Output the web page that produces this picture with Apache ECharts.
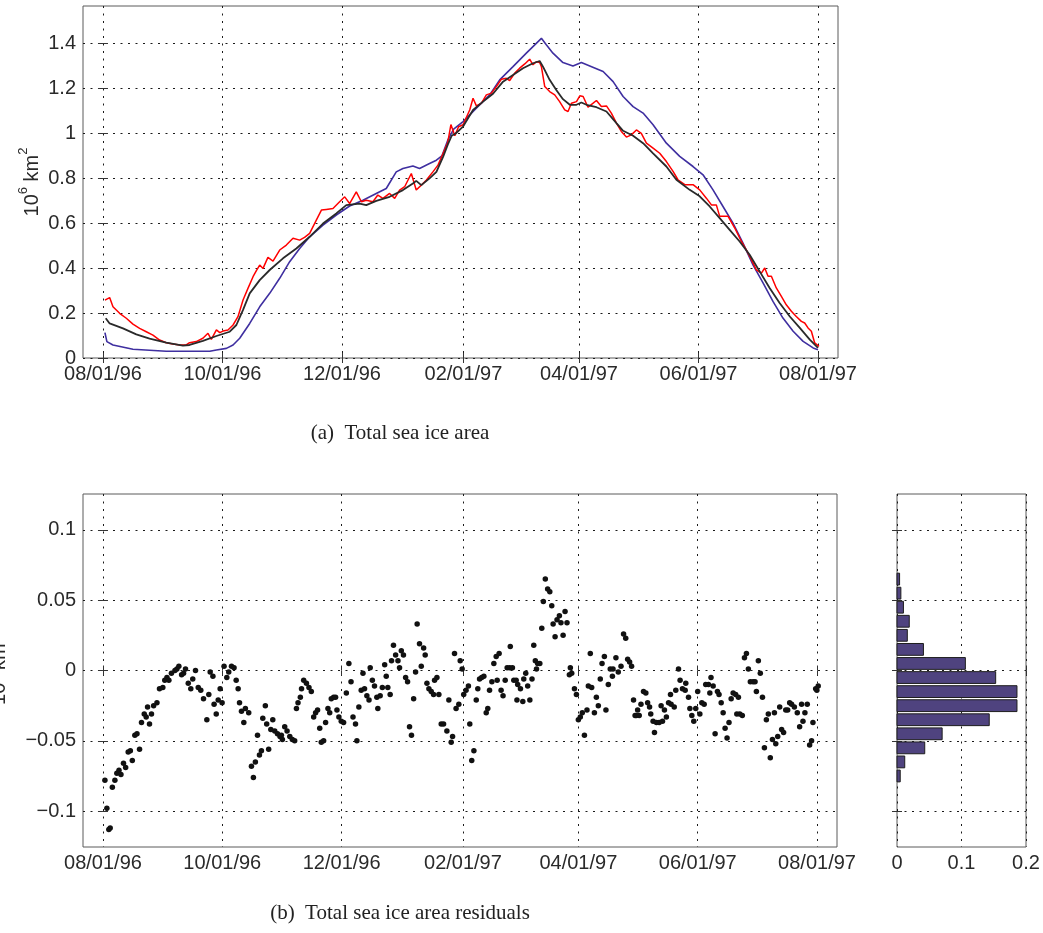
<!DOCTYPE html>
<html>
<head>
<meta charset="utf-8">
<title>Total sea ice area</title>
<script src="https://cdn.jsdelivr.net/npm/echarts@6/dist/echarts.min.js"></script>
<style>
  html, body { margin: 0; padding: 0; background: #fff; }
  #chart { width: 1043px; height: 933px; }
</style>
</head>
<body>
<div id="chart"></div>
<script>
// Days are counted from 08/01/96.
const tickDays = [0, 61, 122, 184, 243, 304, 365];
const tickLabels = ['08/01/96', '10/01/96', '12/01/96', '02/01/97', '04/01/97', '06/01/97', '08/01/97'];
const areaTicks = [0, 0.2, 0.4, 0.6, 0.8, 1, 1.2, 1.4];
const residualTicks = [-0.1, -0.05, 0, 0.05, 0.1];
const freqTicks = [0, 0.1, 0.2];

// Observed total sea ice area (10^6 km^2): [day, area]
const areaObserved = [[1,0.258],[3.4,0.269],[5.1,0.228],[8.5,0.199],[11.9,0.177],[15.3,0.151],[18.7,0.132],[22.1,0.117],[25.5,0.102],[28.9,0.080],[32.3,0.068],[35.7,0.062],[39.1,0.058],[42.5,0.058],[44.2,0.068],[47.6,0.073],[51,0.088],[53.6,0.110],[55.3,0.083],[57.9,0.125],[59.6,0.113],[61.3,0.120],[63.8,0.125],[66.4,0.147],[68.9,0.184],[71.5,0.258],[74,0.310],[76.6,0.362],[78.3,0.389],[80,0.414],[81.7,0.399],[84.2,0.448],[86.8,0.432],[90.2,0.481],[93.6,0.503],[97,0.533],[100.4,0.525],[102.9,0.537],[105.5,0.555],[108.9,0.614],[111.5,0.659],[114,0.662],[117.4,0.666],[120.8,0.696],[123.4,0.718],[125.9,0.688],[129.3,0.740],[131.9,0.696],[134.4,0.703],[137.8,0.696],[140.3,0.726],[142.9,0.711],[146.3,0.733],[148.9,0.711],[151.4,0.748],[154,0.763],[157.4,0.822],[159.9,0.748],[162.5,0.770],[165,0.792],[168.4,0.829],[171,0.859],[173.6,0.911],[176,0.96],[177.6,1.04],[179.6,0.99],[181.5,1.03],[183.8,1.039],[187.2,1.105],[188.9,1.157],[190.6,1.123],[193.2,1.135],[195.7,1.172],[198.3,1.180],[200.8,1.209],[203.4,1.242],[205.9,1.246],[207.6,1.236],[210.2,1.269],[212.7,1.291],[215.3,1.310],[217.8,1.331],[219.5,1.306],[221.2,1.320],[222.9,1.316],[223.8,1.298],[225.5,1.209],[228,1.187],[230.6,1.172],[233.1,1.142],[235.7,1.105],[237.4,1.098],[239.1,1.135],[241.7,1.142],[243.4,1.168],[245.1,1.165],[247.6,1.117],[250.2,1.135],[251.9,1.147],[254.4,1.120],[257,1.123],[259.5,1.091],[262.1,1.046],[264.6,1.009],[267.2,0.984],[269.7,0.994],[272.3,1.016],[274.8,1.001],[277.4,0.957],[280.8,0.935],[284.2,0.912],[287.6,0.875],[291,0.831],[293.5,0.794],[297,0.772],[301.2,0.772],[304.6,0.749],[308,0.712],[310.6,0.682],[313.1,0.682],[314.8,0.631],[319.1,0.631],[322.5,0.579],[325.9,0.519],[328.4,0.482],[331,0.438],[333.5,0.393],[336.1,0.378],[337.8,0.401],[339.5,0.364],[341.2,0.364],[343.7,0.312],[346.3,0.274],[348.8,0.237],[351.4,0.208],[353.9,0.185],[356.5,0.163],[358.2,0.156],[359.9,0.134],[361.6,0.119],[363.3,0.067],[365.5,0.052]];

// Smoothed area: [day, area]
const areaSmoothed = [[1.4,0.177],[3.4,0.154],[10.2,0.132],[17,0.105],[23.8,0.086],[32.3,0.068],[40.8,0.055],[44.2,0.058],[51,0.076],[57.9,0.098],[64.7,0.117],[68.1,0.147],[71.5,0.214],[74.9,0.288],[80,0.347],[85.1,0.392],[91.9,0.444],[98.7,0.488],[105.5,0.540],[112.3,0.599],[119.1,0.644],[124.2,0.681],[131,0.688],[134.4,0.681],[139.5,0.700],[146.3,0.718],[153.1,0.748],[158.2,0.777],[159.9,0.789],[162.5,0.770],[166.7,0.800],[170.2,0.829],[173.6,0.896],[176,0.95],[178,0.99],[180,1.0],[183.8,1.031],[188.9,1.105],[194,1.142],[199.1,1.177],[204.2,1.231],[209.3,1.261],[214.4,1.291],[219.5,1.313],[222.9,1.323],[224.6,1.298],[228,1.239],[231.4,1.194],[234.8,1.153],[238.3,1.128],[241.7,1.128],[244.2,1.138],[246.8,1.128],[251.9,1.117],[257,1.098],[262.1,1.046],[265.5,1.012],[270.6,0.990],[275.7,0.957],[280.8,0.912],[287.6,0.853],[292.7,0.794],[299.5,0.749],[304.6,0.720],[309.7,0.675],[314.8,0.623],[319.9,0.571],[325,0.519],[330.1,0.460],[335.2,0.386],[340.3,0.312],[345.4,0.245],[350.6,0.185],[355.7,0.134],[360.8,0.082],[365,0.045]];

// Modelled area: [day, area]
const areaModel = [[1,0.113],[2,0.073],[5.1,0.058],[15.3,0.039],[32.3,0.030],[54.5,0.030],[57.9,0.036],[63,0.043],[66.4,0.058],[69.8,0.088],[74.9,0.154],[80,0.228],[85.1,0.288],[90.2,0.355],[95.3,0.429],[100.4,0.488],[105.5,0.540],[112.3,0.592],[119.1,0.637],[125.9,0.677],[132.7,0.703],[139.5,0.733],[144.6,0.755],[149.7,0.829],[153.1,0.844],[158.2,0.855],[161.6,0.844],[166.7,0.866],[170.2,0.881],[173,0.90],[176,0.97],[179,1.02],[183.8,1.053],[190.6,1.113],[197.4,1.172],[202.5,1.239],[209.3,1.298],[216.1,1.358],[220.4,1.395],[223.8,1.424],[226.3,1.395],[229.7,1.358],[234.8,1.316],[239.9,1.301],[244.2,1.316],[248.5,1.301],[255.3,1.276],[260.4,1.231],[265.5,1.165],[270.6,1.120],[275.7,1.091],[280.8,1.039],[287.6,0.957],[294.4,0.898],[301.2,0.853],[306.3,0.816],[311.4,0.749],[316.5,0.675],[321.6,0.601],[326.7,0.512],[331.8,0.415],[337,0.334],[342,0.252],[347.1,0.178],[352.3,0.119],[357.4,0.074],[362.5,0.045],[365,0.037]];

// Daily residuals (10^6 km^2): [day, residual]
const residuals = [[1,-0.078],[2,-0.098],[3,-0.113],[3.7,-0.112],[4.8,-0.083],[6.1,-0.078],[7.1,-0.073],[8.2,-0.071],[9.2,-0.074],[10.5,-0.066],[11.6,-0.069],[12.9,-0.058],[14,-0.057],[15,-0.064],[16.3,-0.046],[17.4,-0.045],[18.7,-0.056],[19.7,-0.037],[21.1,-0.031],[22.1,-0.033],[22.8,-0.026],[23.8,-0.038],[24.8,-0.031],[25.9,-0.025],[27.6,-0.023],[28.9,-0.013],[30.6,-0.012],[31.6,-0.007],[32.7,-0.005],[33.7,-0.007],[35,-0.002],[36.8,0.0],[37.8,0.001],[38.8,0.003],[40.2,-0.003],[41.2,-0.002],[42.2,0.001],[43.6,-0.009],[44.9,-0.013],[45.9,-0.006],[47.3,0.0],[48.7,-0.012],[50,-0.014],[51.4,-0.020],[53.1,-0.035],[54.1,-0.017],[54.8,-0.001],[56.2,-0.004],[56.8,-0.024],[57.9,-0.031],[58.9,-0.021],[59.9,-0.013],[60.9,-0.023],[61.9,0.003],[63.3,-0.005],[64.3,-0.001],[65.7,0.003],[67,0.002],[68.1,-0.007],[69.1,-0.013],[69.8,-0.023],[70.8,-0.029],[72,-0.037],[72.8,-0.027],[74.5,-0.030],[75.9,-0.068],[76.9,-0.076],[77.9,-0.065],[79,-0.046],[80,-0.060],[81,-0.057],[81.7,-0.034],[83,-0.025],[83.7,-0.038],[84.7,-0.056],[85.8,-0.042],[86.8,-0.035],[87.8,-0.043],[89.2,-0.045],[90.5,-0.047],
[91.2,-0.046],[91.7,-0.049],[92.9,-0.040],[94.1,-0.043],[95.5,-0.047],[96.8,-0.049],[98,-0.050],[98.9,-0.027],[99.7,-0.023],[100.9,-0.019],[101.5,-0.013],[102.6,-0.007],[104,-0.009],[105.3,-0.012],[106.5,-0.015],[107.7,-0.033],[108.7,-0.030],[109.7,-0.028],[110.8,-0.041],[111.6,-0.051],[112.8,-0.050],[113.8,-0.037],[115,-0.027],[115.9,-0.030],[116.7,-0.020],[117.9,-0.019],[118.9,-0.019],[119.6,-0.028],[120.6,-0.033],[121.8,-0.036],[123,-0.037],[124.4,-0.016],[125.7,0.005],[126.8,-0.008],[127.8,-0.033],[129.1,-0.038],[129.8,-0.050],[130.8,-0.026],[132,-0.014],[132.9,-0.002],[133.7,-0.013],[134.9,-0.018],[136,-0.021],[136.6,0.002],[137.7,-0.007],[138.8,-0.011],[140,-0.019],[140.5,-0.027],[141.7,-0.018],[142.8,-0.012],[144,0.004],[144.8,-0.004],[145.6,-0.012],[146.8,-0.017],[147.5,0.007],[148.5,0.018],[149.6,0.011],[150.8,0.007],[151.6,0.002],[152.5,0.014],[153.6,0.011],[154.7,-0.005],[155.7,-0.008],[156.7,-0.040],[157.7,-0.046],[158.8,-0.020],[159.8,-0.001],[160.6,0.033],[161.8,0.019],[162.7,0.003],[163.9,0.016],[164.7,0.011],[165.6,-0.009],[166.6,-0.013],[167.8,-0.015],[169,-0.017],[169.5,-0.007],[170.7,-0.005],[171.7,-0.017],[172.9,-0.038],[174.1,-0.038],[175.8,-0.043],[176.8,-0.021],[178,-0.051],[178.7,-0.047],[179.7,0.012],[180.5,-0.027],[181.9,-0.024],[182.6,0.007],[183.6,0.001],[184.4,-0.017],
[185.6,-0.014],[186.8,-0.011],[187.5,-0.038],[188.5,-0.064],[189.6,-0.057],[190.8,-0.021],[191.6,-0.013],[192.5,-0.006],[193.6,-0.005],[194.7,-0.004],[195.9,-0.030],[196.7,-0.027],[197.6,-0.014],[198.8,-0.008],[199.8,0.005],[201,0.010],[201.5,-0.007],[202.5,0.012],[203.5,-0.014],[204.5,-0.018],[205.6,-0.007],[206.6,0.002],[207.9,0.002],[208.2,0.017],[209.3,0.002],[210,-0.007],[211.2,-0.007],[211.6,-0.021],[212,-0.010],[213.4,-0.013],[214.6,-0.022],[215.1,-0.006],[216.1,-0.002],[217.1,-0.011],[218.2,-0.021],[219.3,-0.006],[220.2,0.018],[221,0.007],[221.6,0.001],[222.2,0.005],[223.3,0.005],[224.3,0.030],[225.1,0.049],[226.1,0.065],[227.3,0.058],[228.4,0.056],[229.4,0.046],[230.1,0.033],[231.1,0.024],[232.1,0.036],[233.3,0.039],[234.1,0.034],[235.2,0.025],[236.2,0.042],[237.2,0.034],[238.4,-0.003],[238.9,0.002],[239.6,-0.002],[241,-0.013],[242,-0.017],[243,-0.035],[244,-0.033],[245,-0.030],[246.1,-0.046],[247.4,-0.028],[248.1,-0.011],[249.1,0.012],[249.8,-0.012],[251.2,-0.030],[252.2,-0.019],[253.2,-0.025],[254.2,-0.006],[255.1,0.005],[256.3,0.010],[257.1,-0.028],[258.3,-0.010],[259.3,0.001],[260.4,-0.004],[260.7,0.001],[262.2,0.009],[263.4,-0.001],[264.8,0.003],[266.1,0.026],[267.2,0.023],[268.2,0.008],[269.2,0.006],[270.2,0.003],[271.2,-0.021],[272,-0.032],[272.6,-0.032],[273.3,-0.028],[274.1,-0.032],[275,-0.024],[276.3,-0.015],[277.5,-0.016],[278.4,-0.023],
[279.4,-0.026],[280,-0.031],[281.2,-0.036],[281.9,-0.044],[282.9,-0.037],[284.3,-0.037],[285.3,-0.025],[286,-0.036],[287,-0.028],[288,-0.033],[289.1,-0.023],[290.1,-0.017],[290.4,-0.024],[292,-0.026],[292.8,-0.014],[294.2,0.001],[295,-0.007],[296.2,-0.013],[297.6,-0.014],[297.9,-0.009],[299.3,-0.019],[300,-0.027],[301,-0.032],[302,-0.036],[303,-0.027],[304,-0.015],[305.1,-0.031],[306.1,-0.023],[307.3,-0.024],[308.1,-0.010],[309.5,-0.010],[310.2,-0.016],[310.8,-0.005],[311.9,-0.011],[312.9,-0.045],[314.1,-0.015],[314.9,-0.017],[316,-0.023],[317,-0.030],[318,-0.041],[319,-0.048],[320,-0.037],[321.1,-0.020],[322.1,-0.016],[323.4,-0.017],[324,-0.031],[324.8,-0.019],[325.5,-0.031],[326.8,-0.032],[327.9,0.009],[328.9,0.012],[329.9,0.001],[330.9,-0.008],[332.3,-0.008],[333.3,-0.008],[334,-0.015],[335,0.007],[336,-0.002],[337.1,-0.019],[338.1,-0.055],[339.1,-0.035],[340.1,-0.031],[341.1,-0.062],[342.2,-0.049],[343.2,-0.030],[343.9,-0.052],[344.9,-0.047],[345.9,-0.026],[346.9,-0.042],[347.9,-0.044],[349,-0.028],[350,-0.028],[351,-0.023],[352,-0.024],[353.4,-0.026],[354.9,-0.030],[356.1,-0.040],[357.1,-0.024],[357.8,-0.036],[358.8,-0.030],[360,-0.024],[361.2,-0.053],[362.2,-0.050],[362.9,-0.037],[364.3,-0.013],[364.9,-0.014],[365.6,-0.011]];

// Residual histogram: bin edges (top to bottom) and relative frequency per bin
const histEdges = [0.07, 0.06, 0.05, 0.04, 0.03, 0.02, 0.01, 0, -0.01, -0.02, -0.03, -0.04, -0.05, -0.06, -0.07, -0.08];
const histFreq = [0.004, 0.006, 0.010, 0.019, 0.016, 0.041, 0.106, 0.153, 0.186, 0.186, 0.143, 0.070, 0.043, 0.012, 0.005];

const TEXT = '#2a2a2a';
const FONT = 'Liberation Sans';
const dotted = { type: [2, 5.5], color: '#1a1a1a', width: 1 };
const tickStyle = { color: '#333', width: 1 };
const minus = s => String(s).replace('-', '\u2212');

function bottomAxis(grid, min, max, ticks, fmt) {
  return {
    type: 'value', gridIndex: grid, position: 'bottom', min, max,
    axisLine: { show: false },
    axisTick: { show: true, inside: true, length: 5, lineStyle: tickStyle, customValues: ticks },
    axisLabel: { show: true, customValues: ticks, formatter: fmt, color: TEXT, fontSize: 20, fontFamily: FONT, margin: 6 },
    splitLine: { show: true, lineStyle: dotted }
  };
}
function mirrorAxis(grid, pos, min, max, ticks) {
  return {
    type: 'value', gridIndex: grid, position: pos, min, max,
    axisLine: { show: false },
    axisTick: { show: true, inside: true, length: 5, lineStyle: tickStyle, customValues: ticks },
    axisLabel: { show: false },
    splitLine: { show: false }
  };
}
function leftAxis(grid, min, max, ticks, fmt, showLabels) {
  return {
    type: 'value', gridIndex: grid, position: 'left', min, max,
    axisLine: { show: false },
    axisTick: { show: true, inside: true, length: 5, lineStyle: tickStyle, customValues: ticks },
    axisLabel: { show: showLabels, customValues: ticks, formatter: fmt, color: TEXT, fontSize: 20, fontFamily: FONT, margin: 7 },
    splitLine: { show: true, lineStyle: dotted }
  };
}

const dateFmt = v => { const i = tickDays.indexOf(v); return i >= 0 ? tickLabels[i] : ''; };
const unitName = '10{sup|6} km{sup|2}';
const unitRich = {
  sup: { fontSize: 13, fontFamily: FONT, color: TEXT, verticalAlign: 'top', lineHeight: 30 }
};

const DAY_MIN = -10.2, DAY_MAX = 375.2;
const AREA_MAX = 1.568, RES_MIN = -0.1255, RES_MAX = 0.1255;

const chart = echarts.init(document.getElementById('chart'), null, { renderer: 'canvas' });

function withUnitName(axis, gap) {
  return Object.assign(axis, {
    name: unitName,
    nameLocation: 'middle',
    nameRotate: 90,
    nameGap: gap,
    nameMoveOverlap: false,
    nameTextStyle: { fontSize: 20, fontFamily: FONT, color: TEXT, rich: unitRich, lineHeight: 30 }
  });
}

const yTop = withUnitName(leftAxis(0, 0, AREA_MAX, areaTicks, v => String(v), true), 36);
const yRes = withUnitName(leftAxis(1, RES_MIN, RES_MAX, residualTicks, v => minus(v), true), 69);

const gridBase = { show: true, borderColor: '#5a5a5a', borderWidth: 1, containLabel: false, outerBoundsMode: 'none' };

const option = {
  animation: false,
  backgroundColor: '#fff',
  grid: [
    Object.assign({ left: 83, top: 6, width: 755, height: 352 }, gridBase),
    Object.assign({ left: 83, top: 494, width: 754, height: 353 }, gridBase),
    Object.assign({ left: 897, top: 494, width: 129, height: 353 }, gridBase)
  ],
  xAxis: [
    bottomAxis(0, DAY_MIN, DAY_MAX, tickDays, dateFmt),
    mirrorAxis(0, 'top', DAY_MIN, DAY_MAX, tickDays),
    bottomAxis(1, DAY_MIN, DAY_MAX, tickDays, dateFmt),
    mirrorAxis(1, 'top', DAY_MIN, DAY_MAX, tickDays),
    bottomAxis(2, 0, 0.2, freqTicks, v => String(v)),
    mirrorAxis(2, 'top', 0, 0.2, freqTicks)
  ],
  yAxis: [
    yTop,
    mirrorAxis(0, 'right', 0, AREA_MAX, areaTicks),
    yRes,
    mirrorAxis(1, 'right', RES_MIN, RES_MAX, residualTicks),
    leftAxis(2, RES_MIN, RES_MAX, residualTicks, v => minus(v), false),
    mirrorAxis(2, 'right', RES_MIN, RES_MAX, residualTicks)
  ],
  graphic: [
    { type: 'text', x: 400, y: 433, style: { text: '(a)  Total sea ice area', textAlign: 'center', textVerticalAlign: 'middle', font: '21px "Liberation Serif"', fill: '#222' } },
    { type: 'text', x: 400, y: 913, style: { text: '(b)  Total sea ice area residuals', textAlign: 'center', textVerticalAlign: 'middle', font: '21px "Liberation Serif"', fill: '#222' } }
  ],
  series: [
    { type: 'line', name: 'model', xAxisIndex: 0, yAxisIndex: 0, data: areaModel, showSymbol: false, symbol: 'none',
      lineStyle: { color: '#3f2fa0', width: 1.6 }, z: 3 },
    { type: 'line', name: 'observed', xAxisIndex: 0, yAxisIndex: 0, data: areaObserved, showSymbol: false, symbol: 'none',
      lineStyle: { color: '#ff0000', width: 1.5 }, z: 4 },
    { type: 'line', name: 'smoothed', xAxisIndex: 0, yAxisIndex: 0, data: areaSmoothed, showSymbol: false, symbol: 'none',
      lineStyle: { color: '#2a2a2a', width: 1.8 }, z: 5 },
    { type: 'scatter', name: 'residuals', xAxisIndex: 2, yAxisIndex: 2, data: residuals,
      symbol: 'circle', symbolSize: 5.5, itemStyle: { color: '#111', opacity: 1 }, z: 4 },
    { type: 'custom', name: 'histogram', xAxisIndex: 4, yAxisIndex: 4,
      data: histFreq.map((f, i) => [histEdges[i + 1], histEdges[i], f]),
      encode: { x: 2, y: [0, 1] },
      renderItem: (params, api) => {
        const lo = api.value(0), hi = api.value(1), f = api.value(2);
        const pad = (hi - lo) * 0.08;
        const a = api.coord([0, hi - pad]);
        const b = api.coord([f, lo + pad]);
        return { type: 'rect', shape: { x: a[0], y: a[1], width: b[0] - a[0], height: b[1] - a[1] },
                 style: { fill: '#4f437f', stroke: '#1e1e1e', lineWidth: 1 } };
      }, z: 4 }
  ]
};
chart.setOption(option);
</script>
</body>
</html>
